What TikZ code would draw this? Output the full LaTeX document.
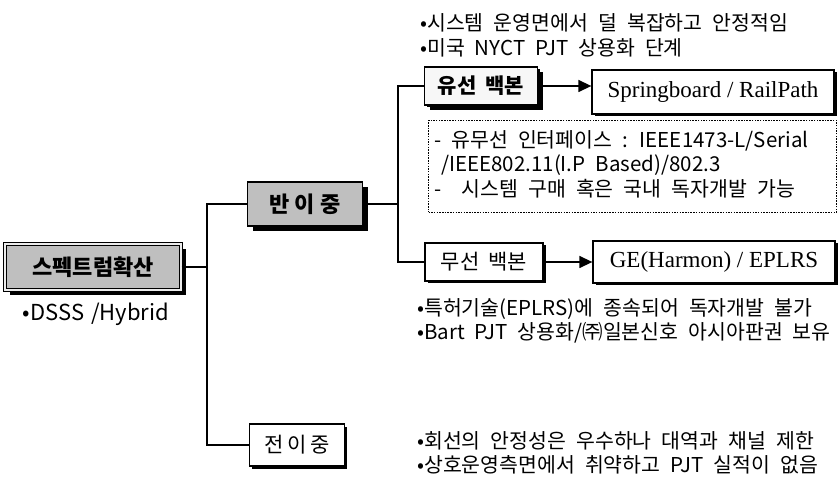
\documentclass[tikz,border=0pt]{standalone}
\usepackage{fontspec}
\setmainfont{Noto Sans CJK KR}[WordSpace=2.2]
\newfontfamily\tms{Liberation Serif}
\usetikzlibrary{shadows,arrows.meta}
\begin{document}
\begin{tikzpicture}[x=1pt,y=-1pt,
  txt/.style={font=\fontsize{20.5}{24}\selectfont, inner sep=0pt, anchor=west},
  conn/.style={line width=1.4pt},
  graybox/.style={draw=black, line width=1.3pt, fill=gray!50, inner sep=0pt,
    drop shadow={shadow xshift=5pt, shadow yshift=-5pt, fill=black, opacity=1},
    font=\bfseries\fontsize{22}{26}\selectfont},
  whitebox/.style={draw=black, line width=1.3pt, fill=white, inner sep=0pt,
    drop shadow={shadow xshift=2.5pt, shadow yshift=-2.5pt, fill=black, opacity=1},
    font=\fontsize{21}{25}\selectfont},
  serifbox/.style={whitebox, font=\tms\fontsize{23}{27}\selectfont},
  dotbox/.style={draw=black, line width=1pt, dash pattern=on 1.5pt off 1.2pt, inner sep=0pt},
  arr/.style={conn, -{Triangle[length=13pt,width=12pt]}}
]
\useasboundingbox (0,0) rectangle (839,481);

% nodes
\node[graybox, double=gray!15, double distance=1.6pt, line width=1pt,
      minimum width=176, minimum height=46] (root) at (93,267) {스펙트럼확산};
\node[txt, anchor=center, font=\fontsize{22}{26}\selectfont] (dsss) at (96,314) {•DSSS\hspace{7pt}/Hybrid};

\node[graybox, minimum width=115, minimum height=44] (ban) at (305,204) {반\hspace{5pt}이\hspace{5pt}중};
\node[whitebox, minimum width=95, minimum height=42] (jeon) at (297,445) {전\hspace{4pt}이\hspace{3pt}중};

\node[whitebox, line width=1.6pt, fill=gray!6, font=\bfseries\fontsize{21}{25}\selectfont,
      drop shadow={shadow xshift=5pt, shadow yshift=-5pt, fill=black, opacity=1},
      minimum width=113, minimum height=38] (yu) at (481,86) {유선\hspace{9pt}백본};
\node[serifbox, minimum width=242, minimum height=44] (sp) at (713,92) {Springboard / RailPath};

\node[whitebox, minimum width=118, minimum height=38] (mu) at (484,262) {무선\hspace{9pt}백본};
\node[serifbox, minimum width=242, minimum height=42] (ge) at (714,262) {GE(Harmon) / EPLRS};

\node[dotbox, minimum width=408, minimum height=92, anchor=north west] (db) at (428,120) {};
\node[txt] (d1) at (434,141) {- 유무선 인터페이스 : IEEE1473-L/Serial};
\node[txt] (d2) at (441,165) {/IEEE802.11(I.P Based)/802.3};
\node[txt] (d3) at (434,189) {-\ \ 시스템 구매 혹은 국내 독자개발 가능};

\node[txt] (t1) at (420,23) {•시스템 운영면에서 덜 복잡하고 안정적임};
\node[txt] (t2) at (420,48) {•미국 NYCT PJT 상용화 단계};
\node[txt] (t3) at (417,309) {•특허기술(EPLRS)에 종속되어 독자개발 불가};
\node[txt] (t4) at (417,333) {•Bart PJT 상용화/㈜일본신호 아시아판권 보유};
\node[txt] (t5) at (417,441) {•회선의 안정성은 우수하나 대역과 채널 제한};
\node[txt] (t6) at (417,465) {•상호운영측면에서 취약하고 PJT 실적이 없음};

% connectors
\coordinate (L) at (207,0);
\coordinate (R) at (398,0);
\draw[conn] (root.east) -- (root.east -| L);
\draw[conn] (ban.west) -- (ban.west -| L) -- (jeon.west -| L) -- (jeon.west);
\draw[conn] (ban.east) -- (ban.east -| R);
\draw[conn] (yu.west) -- (yu.west -| R) -- (mu.west -| R) -- (mu.west);
\draw[arr] (yu.east) -- (yu.east -| sp.west);
\draw[arr] (mu.east) -- (mu.east -| ge.west);
\end{tikzpicture}
\end{document}
